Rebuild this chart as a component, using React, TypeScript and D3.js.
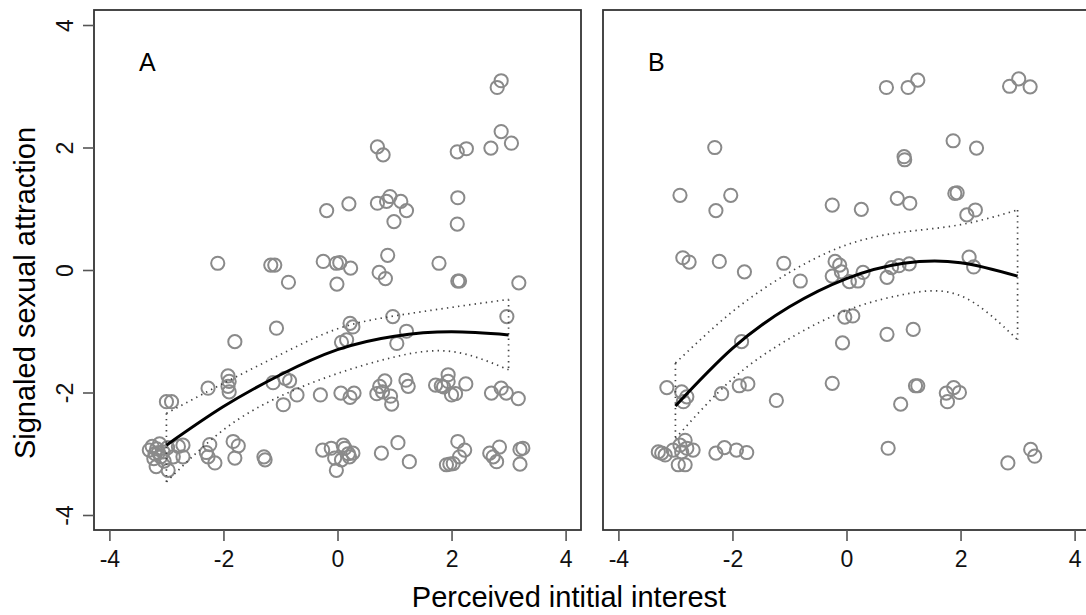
import { useEffect, useRef } from "react";
import * as d3 from "d3";

// axis ticks shared by both panels
const xTicks = [-4, -2, 0, 2, 4];
const yTicks = [-4, -2, 0, 2, 4];

// fitted curve and confidence band at x = -3..3
const fitX = [-3, -2, -1, 0, 1, 2, 3];
const fitA = [-2.86, -2.23, -1.71, -1.3, -1.08, -1.01, -1.06];
const upperA = [-2.34, -1.85, -1.38, -0.96, -0.75, -0.61, -0.48];
const lowerA = [-3.46, -2.61, -2.06, -1.69, -1.42, -1.33, -1.63];
const fitB = [-2.22, -1.28, -0.6, -0.14, 0.11, 0.12, -0.1];
const upperB = [-1.52, -0.68, -0.04, 0.41, 0.62, 0.74, 0.98];
const lowerB = [-2.75, -1.78, -1.12, -0.66, -0.4, -0.42, -1.14];

// raw observations (x = perceived interest, y = signaled attraction)
const pointsA: [number, number][] = [
  [2.87, 3.09], [2.8, 2.98], [2.87, 2.26], [3.05, 2.07], [2.69, 1.99],
  [2.1, 1.93], [2.26, 1.98], [2.11, 1.18], [2.1, 0.75],
  [0.7, 2.01], [0.8, 1.88],
  [-0.19, 0.97], [0.2, 1.08], [0.7, 1.09], [0.86, 1.12], [0.92, 1.2],
  [1.11, 1.12], [1.21, 0.97], [0.99, 0.79],
  [0.88, 0.24], [0.73, -0.04], [0.84, -0.14],
  [-2.1, 0.11], [-1.17, 0.08], [-1.1, 0.08], [-0.86, -0.2], [-0.25, 0.14],
  [-0.02, 0.11], [0.04, 0.12], [0.23, 0.03], [-0.01, -0.23],
  [1.78, 0.11], [2.11, -0.18], [2.14, -0.18], [3.18, -0.21],
  [0.97, -0.76], [2.97, -0.76], [-1.07, -0.95], [0.22, -0.87], [0.27, -0.93],
  [0.07, -1.18], [0.16, -1.14], [1.04, -1.2], [1.21, -1.0], [-1.8, -1.17],
  [-3.0, -2.15], [-2.91, -2.15], [-2.27, -1.93],
  [-1.92, -1.73], [-1.9, -1.82], [-1.92, -1.9], [-1.9, -1.99],
  [-1.13, -1.84], [-0.92, -1.77], [-0.84, -1.81], [-0.95, -2.2],
  [-0.71, -2.04], [-0.3, -2.04], [0.06, -2.01], [0.22, -2.08], [0.29, -2.01],
  [0.74, -1.9], [0.83, -1.81], [0.69, -2.02], [0.79, -1.99], [0.93, -2.06], [0.95, -2.19],
  [1.2, -1.8], [1.24, -1.9],
  [1.72, -1.88], [1.82, -1.89], [1.86, -1.91], [1.94, -1.71], [1.94, -1.82],
  [2.0, -2.04], [2.07, -2.02], [2.25, -1.86],
  [2.7, -2.01], [2.87, -1.93], [2.96, -2.01], [3.17, -2.1],
  [-3.3, -2.94], [-3.25, -2.88], [-3.2, -3.0], [-3.17, -2.92], [-3.12, -2.84],
  [-3.1, -3.05], [-3.06, -2.97], [-3.22, -3.08], [-3.14, -2.98], [-2.98, -2.9],
  [-3.18, -3.21], [-2.97, -3.27], [-2.79, -2.88], [-2.71, -2.86], [-2.71, -3.05],
  [-2.88, -3.05], [-3.04, -3.12],
  [-2.24, -2.85], [-2.27, -3.05], [-2.15, -3.15], [-2.3, -2.98],
  [-1.83, -2.8], [-1.74, -2.87], [-1.8, -3.07],
  [-1.29, -3.05], [-1.27, -3.1],
  [-0.26, -2.94], [-0.11, -2.91], [-0.05, -3.07], [0.1, -2.86], [0.13, -2.91],
  [0.19, -3.0], [0.27, -2.99], [0.21, -3.05], [-0.02, -3.27], [0.07, -3.1],
  [0.77, -2.99], [1.06, -2.82], [1.26, -3.13],
  [2.11, -2.8], [2.23, -2.94], [2.14, -3.05], [2.03, -3.16], [1.91, -3.18], [1.97, -3.17],
  [2.67, -2.99], [2.84, -2.89], [2.79, -3.13], [2.73, -3.05],
  [3.2, -2.93], [3.25, -2.91], [3.2, -3.17],
];

const pointsB: [number, number][] = [
  [-2.31, 2.0], [-2.92, 1.22], [-2.03, 1.22], [-2.29, 0.97],
  [-2.87, 0.2], [-2.76, 0.13], [-2.23, 0.14], [-1.79, -0.03], [-1.1, 0.11],
  [-0.81, -0.18], [-0.25, 1.06],
  [-0.2, 0.14], [-0.12, 0.08], [-0.09, -0.03], [-0.25, -0.1], [0.05, -0.19],
  [0.2, -0.18], [0.29, -0.04],
  [0.7, 2.98], [1.08, 2.98], [1.25, 3.1], [2.86, 3.0], [3.02, 3.12], [3.22, 2.99],
  [1.87, 2.11], [2.28, 1.99], [1.01, 1.85], [1.02, 1.8],
  [0.26, 0.99], [0.89, 1.17], [1.11, 1.09], [1.9, 1.25], [1.94, 1.26],
  [2.11, 0.9], [2.26, 0.98],
  [0.71, -0.12], [0.79, 0.04], [0.92, 0.07], [1.1, 0.1], [2.15, 0.21], [2.23, 0.05],
  [-0.03, -0.77], [0.11, -0.75], [-0.07, -1.19], [0.71, -1.05], [1.17, -0.97],
  [-1.84, -1.17],
  [-3.15, -1.92], [-2.89, -1.99], [-2.8, -2.07], [-2.86, -2.15], [-2.19, -2.02],
  [-1.88, -1.89], [-1.73, -1.86], [-1.23, -2.13], [-0.25, -1.85],
  [0.95, -2.19], [1.21, -1.89], [1.25, -1.89],
  [1.75, -2.01], [1.88, -1.92], [1.98, -2.0], [1.77, -2.15],
  [0.73, -2.91],
  [-3.3, -2.97], [-3.24, -2.99], [-3.18, -3.02], [-3.04, -2.94], [-2.92, -2.86],
  [-2.83, -2.78], [-2.8, -2.91], [-2.69, -2.94], [-2.89, -2.97], [-2.95, -3.18],
  [-2.83, -3.18],
  [-2.29, -2.99], [-2.14, -2.9], [-1.93, -2.94], [-1.75, -2.98],
  [2.83, -3.15], [3.23, -2.93], [3.3, -3.04],
];

const FONT = "'Liberation Sans', Arial, Helvetica, sans-serif";

const App = () => {
  const svgRef = useRef<SVGSVGElement>(null);

  useEffect(() => {
    const width = 1086;
    const height = 615;
    const top = 10;
    const bottom = 530;

    const svg = d3.select(svgRef.current);
    svg.selectAll("*").remove();
    svg.attr("width", width).attr("height", height);

    svg.append("rect").attr("width", width).attr("height", height).attr("fill", "white");

    const y = d3.scaleLinear().domain([-4.245, 4.245]).range([bottom, top]);

    const panels = [
      { label: "A", left: 94, right: 581, points: pointsA, fit: fitA, upper: upperA, lower: lowerA, yAxis: true },
      { label: "B", left: 603, right: 1090, points: pointsB, fit: fitB, upper: upperB, lower: lowerB, yAxis: false },
    ];

    panels.forEach((p) => {
      const x = d3.scaleLinear().domain([-4.27, 4.27]).range([p.left, p.right]);
      const g = svg.append("g");

      // points
      g.selectAll(".pt")
        .data(p.points)
        .enter()
        .append("circle")
        .attr("class", "pt")
        .attr("cx", (d) => x(d[0]))
        .attr("cy", (d) => y(d[1]))
        .attr("r", 6.6)
        .attr("fill", "none")
        .attr("stroke", "#8a8a8a")
        .attr("stroke-width", 2);

      const line = d3
        .line<[number, number]>()
        .x((d) => x(d[0]))
        .y((d) => y(d[1]))
        .curve(d3.curveNatural);

      const straight = d3
        .line<[number, number]>()
        .x((d) => x(d[0]))
        .y((d) => y(d[1]));

      const up = fitX.map((v, i) => [v, p.upper[i]] as [number, number]);
      const lo = fitX.map((v, i) => [v, p.lower[i]] as [number, number]);
      const last = fitX.length - 1;

      // confidence band (dotted), closed at both ends
      [
        line(up),
        line(lo),
        straight([up[0], lo[0]]),
        straight([up[last], lo[last]]),
      ].forEach((d) => {
        g.append("path")
          .attr("d", d)
          .attr("fill", "none")
          .attr("stroke", "#444")
          .attr("stroke-width", 1.7)
          .attr("stroke-dasharray", "1.4 4.2");
      });

      // fitted curve
      g.append("path")
        .datum(fitX.map((v, i) => [v, p.fit[i]] as [number, number]))
        .attr("fill", "none")
        .attr("stroke", "#000")
        .attr("stroke-width", 3)
        .attr("d", line);

      // box
      g.append("rect")
        .attr("x", p.left)
        .attr("y", top)
        .attr("width", p.right - p.left)
        .attr("height", bottom - top)
        .attr("fill", "none")
        .attr("stroke", "#333")
        .attr("stroke-width", 1.8);

      // x axis
      const xa = g
        .append("g")
        .attr("transform", `translate(0,${bottom})`)
        .call(d3.axisBottom(x).tickValues(xTicks).tickSize(11).tickSizeOuter(0).tickPadding(10));
      xa.select(".domain").remove();
      xa.attr("font-size", 23).attr("font-family", FONT).attr("color", "#111");
      xa.selectAll("line").attr("stroke", "#555").attr("stroke-width", 1.6);
      xa.selectAll("text").text((d: any) => (d < 0 ? `-${Math.abs(d)}` : `${d}`));

      if (p.yAxis) {
        const ya = g
          .append("g")
          .attr("transform", `translate(${p.left},0)`)
          .call(d3.axisLeft(y).tickValues(yTicks).tickSize(11).tickSizeOuter(0));
        ya.select(".domain").remove();
        ya.attr("font-size", 23).attr("font-family", FONT).attr("color", "#111");
        ya.selectAll("line").attr("stroke", "#555").attr("stroke-width", 1.6);
        ya.selectAll("text")
          .text((d: any) => (d < 0 ? `-${Math.abs(d)}` : `${d}`))
          .attr("x", 0)
          .attr("y", 0)
          .attr("dy", null)
          .attr("text-anchor", "middle")
          .attr("transform", `translate(${73 - p.left},0) rotate(-90)`);
      }

      // panel label
      g.append("text")
        .attr("x", p.left + 45)
        .attr("y", 71)
        .attr("font-family", FONT)
        .attr("font-size", 25)
        .attr("fill", "#000")
        .text(p.label);
    });

    // axis titles
    svg
      .append("text")
      .attr("x", 569)
      .attr("y", 607)
      .attr("text-anchor", "middle")
      .attr("font-family", FONT)
      .attr("font-size", 29)
      .attr("fill", "#000")
      .text("Perceived intitial interest");

    svg
      .append("text")
      .attr("transform", "translate(35,293) rotate(-90)")
      .attr("text-anchor", "middle")
      .attr("font-family", FONT)
      .attr("font-size", 29)
      .attr("fill", "#000")
      .text("Signaled sexual attraction");
  }, []);

  return (
    <div style={{ position: "absolute", left: 0, top: 0 }}>
      <svg ref={svgRef} style={{ display: "block" }}></svg>
    </div>
  );
};

export default App;
